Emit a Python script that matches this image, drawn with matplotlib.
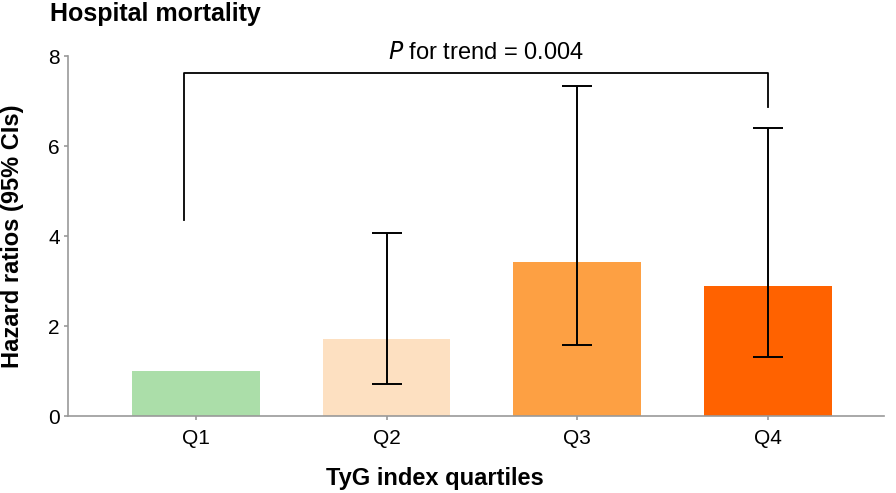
import matplotlib
matplotlib.use("Agg")
import matplotlib.pyplot as plt

plt.rcParams["font.family"] = ["Liberation Sans", "DejaVu Sans"]

# data
quartiles = ["Q1", "Q2", "Q3", "Q4"]
hr = [1.0, 1.71, 3.42, 2.89]
ci_low = [1.0, 0.71, 1.58, 1.31]
ci_high = [1.0, 4.07, 7.33, 6.40]
colors = ["#abdea9", "#fde0c1", "#fda043", "#ff6200"]

# bracket for trend test
bracket_top = 7.62
bracket_left_end = 4.36
bracket_right_end = 6.87
trend_text = r"$\it{P}$ for trend = 0.004"

fig = plt.figure(figsize=(8.96, 4.93), dpi=100)
ax = fig.add_axes([0.076, 0.156, 0.911, 0.73])

x = list(range(len(quartiles)))
ax.bar(x, hr, width=0.67, color=colors, zorder=2)

# error bars only where a CI exists (Q1 is reference)
for xi, h, lo, hi in zip(x, hr, ci_low, ci_high):
    if hi > lo:
        ax.errorbar(xi, h, yerr=[[h - lo], [hi - h]], fmt="none",
                    ecolor="black", elinewidth=1.4, capsize=11,
                    capthick=1.4, zorder=3)

# left leg sits a little left of the Q1 centre in the original
ax.plot([x[0] - 0.06, x[0] - 0.06, x[3], x[3]],
        [bracket_left_end, bracket_top, bracket_top, bracket_right_end],
        color="black", linewidth=1.3, clip_on=False)
ax.text(1.52, bracket_top + 0.2, trend_text,
        ha="center", va="bottom", fontsize=17)

ax.set_xlim(-0.67, 3.61)
ax.set_ylim(0, 8)
ax.set_yticks([0, 2, 4, 6, 8])
ax.set_xticks(x)
ax.set_xticklabels(quartiles)

for side in ["top", "right"]:
    ax.spines[side].set_visible(False)
for side in ["left", "bottom"]:
    ax.spines[side].set_color("#999999")
    ax.spines[side].set_linewidth(1.2)
ax.tick_params(colors="#999999", length=3, width=1.2, pad=3, labelsize=15,
               labelcolor="black")
ax.tick_params(axis="x", pad=6)

ax.set_ylabel("Hazard ratios (95% CIs)", fontsize=17, fontweight="bold")
ax.yaxis.set_label_coords(-0.054, 0.5)
fig.text(435 / 896, 1 - 478 / 493, "TyG index quartiles", fontsize=17,
         fontweight="bold", ha="center", va="center")
fig.text(50 / 896, 0.995, "Hospital mortality", fontsize=18,
         fontweight="bold", ha="left", va="top")

fig.savefig("out.png", dpi=100)
